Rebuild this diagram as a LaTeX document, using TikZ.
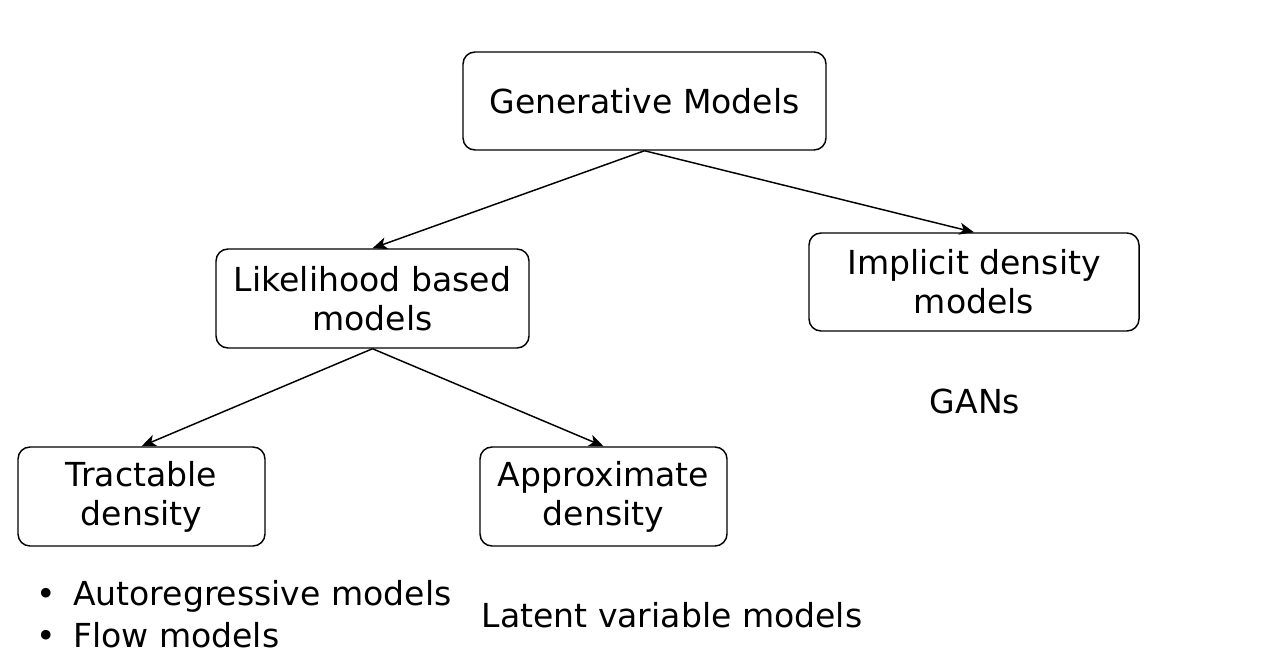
\documentclass[tikz,border=0pt]{standalone}
\usepackage{fontspec}
\setmainfont{DejaVu Sans}
\usetikzlibrary{arrows.meta}
\begin{document}
\begin{tikzpicture}[x=0.75pt,y=-0.75pt,
  box/.style={draw,rounded corners=9pt,line width=1.1pt,align=center,inner sep=0pt,
    font=\fontsize{24.8}{29.3}\selectfont},
  txt/.style={align=left,inner sep=0pt,font=\fontsize{24.8}{29.3}\selectfont},
  conn/.style={line width=1.1pt,-{Stealth[length=11pt,width=9pt,inset=3pt]}}]
\useasboundingbox (0,0) rectangle (1280,659);
\node[box,minimum width=363*0.75pt,minimum height=98*0.75pt] (gen) at (644.5,101) {Generative Models};
\node[box,minimum width=313*0.75pt,minimum height=99*0.75pt] (lik) at (372.5,298.5) {Likelihood based\\models};
\node[box,minimum width=330*0.75pt,minimum height=98*0.75pt] (imp) at (974,282) {Implicit density\\models};
\node[box,minimum width=247*0.75pt,minimum height=99*0.75pt] (tra) at (141.5,496.5) {Tractable\\density};
\node[box,minimum width=247*0.75pt,minimum height=99*0.75pt] (app) at (603.5,496.5) {Approximate\\density};
\node[txt] (gans) at (975,401) {GANs};
\node[txt] (lat) at (672,615) {Latent variable models};
\node[txt,anchor=west] (auto) at (36,596) {\textbullet\hspace{13pt}Autoregressive models};
\node[txt,anchor=west] (flow) at (36,635) {\textbullet\hspace{13pt}Flow models};
\draw[conn] (gen.south) -- (lik.north);
\draw[conn] (gen.south) -- (imp.north);
\draw[conn] (lik.south) -- (tra.north);
\draw[conn] (lik.south) -- (app.north);
\end{tikzpicture}
\end{document}
